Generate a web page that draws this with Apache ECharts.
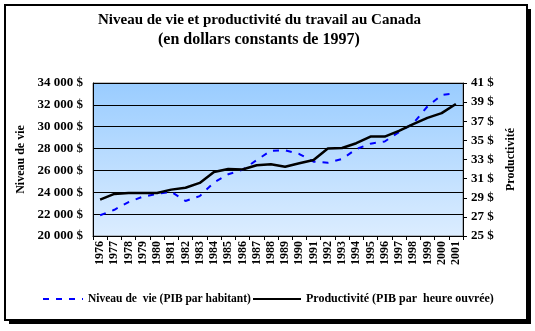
<!DOCTYPE html>
<html>
<head>
<meta charset="utf-8">
<script src="https://cdn.jsdelivr.net/npm/echarts@6/dist/echarts.min.js"></script>
<style>
  html, body { margin: 0; padding: 0; background: #ffffff; }
  #chart { width: 535px; height: 331px; }
</style>
</head>
<body>
<div id="chart"></div>
<script>
// Années (catégories)
const annees = ['1976','1977','1978','1979','1980','1981','1982','1983','1984','1985','1986','1987','1988',
                '1989','1990','1991','1992','1993','1994','1995','1996','1997','1998','1999','2000','2001'];

// PIB par habitant, dollars constants de 1997 (axe de gauche)
const niveauDeVie = [21900, 22400, 23100, 23600, 23850, 24050, 23200, 23650, 24900, 25650, 26050, 26950, 27800,
                     27850, 27500, 26800, 26700, 27050, 27950, 28450, 28650, 29500, 30300, 31850, 32900, 33050];

// PIB par heure ouvrée, dollars constants de 1997 (axe de droite)
const productivite = [28.8, 29.4, 29.5, 29.5, 29.5, 29.85, 30.05, 30.55, 31.7, 32.0, 31.95, 32.4, 32.5,
                      32.25, 32.6, 32.95, 34.15, 34.2, 34.7, 35.4, 35.4, 36.0, 36.7, 37.35, 37.85, 38.8];

const nomNiveau = 'Niveau de  vie (PIB par habitant)';
const nomProd = 'Productivité (PIB par  heure ouvrée)';

const titre1 = 'Niveau de vie et productivité du travail au Canada';
const titre2 = '(en dollars constants de 1997)';

const serif = '"Liberation Serif", "Times New Roman", serif';

function fmtMilliers(v) {
  return String(v).replace(/\B(?=(\d{3})+(?!\d))/g, ' ') + ' $';
}

const legendeTexte = { fontFamily: serif, fontWeight: 'bold', fontSize: 11.5, color: '#000000' };
// la légende ne montre que le trait, sans marqueur
const legendeMarqueur = { opacity: 0 };

const chart = echarts.init(document.getElementById('chart'), null, { renderer: 'canvas' });

chart.setOption({
  animation: false,
  backgroundColor: '#ffffff',
  graphic: [
    // cadre avec ombre portée
    { type: 'rect', z: -20, shape: { x: 9, y: 9, width: 522, height: 315 }, style: { fill: '#000000' } },
    { type: 'rect', z: -19, shape: { x: 5, y: 5, width: 522, height: 315 },
      style: { fill: '#ffffff', stroke: '#000000', lineWidth: 2 } }
  ],
  title: [
    {
      text: titre1, left: 98, top: 10, padding: 0,
      textStyle: { fontFamily: serif, fontWeight: 'bold', fontSize: 15, lineHeight: 20, color: '#000000' }
    },
    {
      text: titre2, left: 158, top: 30, padding: 0,
      textStyle: { fontFamily: serif, fontWeight: 'bold', fontSize: 16, lineHeight: 20, color: '#000000' }
    }
  ],
  legend: [
    {
      data: [nomNiveau], left: 42, top: 293, padding: 0, itemWidth: 40, itemHeight: 10,
      itemStyle: legendeMarqueur, textStyle: legendeTexte
    },
    {
      data: [nomProd], left: 252, top: 293, padding: 0, itemWidth: 48, itemHeight: 10,
      itemStyle: legendeMarqueur, textStyle: Object.assign({}, legendeTexte, { fontSize: 12 })
    }
  ],
  grid: {
    left: 93, right: 72, top: 83, bottom: 95,
    show: true,
    borderColor: '#808080', borderWidth: 1,
    backgroundColor: new echarts.graphic.LinearGradient(0, 0, 0, 1, [
      { offset: 0, color: '#99ccff' },
      { offset: 1, color: '#dcedff' }
    ])
  },
  xAxis: {
    type: 'category',
    data: annees,
    boundaryGap: true,
    axisLine: { lineStyle: { color: '#000000', width: 1 } },
    axisTick: { show: true, length: 4, lineStyle: { color: '#000000' } },
    axisLabel: { rotate: 90, margin: 5, interval: 0,
                 fontFamily: serif, fontWeight: 'bold', fontSize: 12, color: '#000000' }
  },
  yAxis: [
    {
      type: 'value',
      min: 20000, max: 34000, interval: 2000,
      name: 'Niveau de vie',
      nameLocation: 'middle', nameRotate: 90, nameGap: 66,
      nameTextStyle: { fontFamily: serif, fontWeight: 'bold', fontSize: 12, color: '#000000' },
      axisLine: { show: true, lineStyle: { color: '#000000', width: 1 } },
      axisTick: { show: false },
      splitLine: { show: true, lineStyle: { color: '#000000', width: 1 } },
      axisLabel: { margin: 10, formatter: fmtMilliers, fontFamily: serif, fontWeight: 'bold', fontSize: 13, color: '#000000' }
    },
    {
      type: 'value',
      position: 'right',
      min: 25, max: 41, interval: 2,
      name: 'Productivité',
      nameLocation: 'middle', nameRotate: 90, nameGap: 39,
      nameTextStyle: { fontFamily: serif, fontWeight: 'bold', fontSize: 12, color: '#000000' },
      axisLine: { show: true, lineStyle: { color: '#000000', width: 1 } },
      axisTick: { show: true, length: 4, lineStyle: { color: '#000000' } },
      splitLine: { show: false },
      axisLabel: { margin: 8, formatter: '{value} $', fontFamily: serif, fontWeight: 'bold', fontSize: 13, color: '#000000' }
    }
  ],
  series: [
    {
      name: nomNiveau,
      type: 'line',
      yAxisIndex: 0,
      data: niveauDeVie,
      symbol: 'none',
      smooth: false,
      lineStyle: { color: '#0000ff', width: 2, type: [6, 7] },
      itemStyle: { color: '#0000ff' },
      z: 3
    },
    {
      name: nomProd,
      type: 'line',
      yAxisIndex: 1,
      data: productivite,
      symbol: 'none',
      smooth: false,
      lineStyle: { color: '#000000', width: 2.5 },
      itemStyle: { color: '#000000' },
      z: 4
    }
  ]
});
</script>
</body>
</html>
